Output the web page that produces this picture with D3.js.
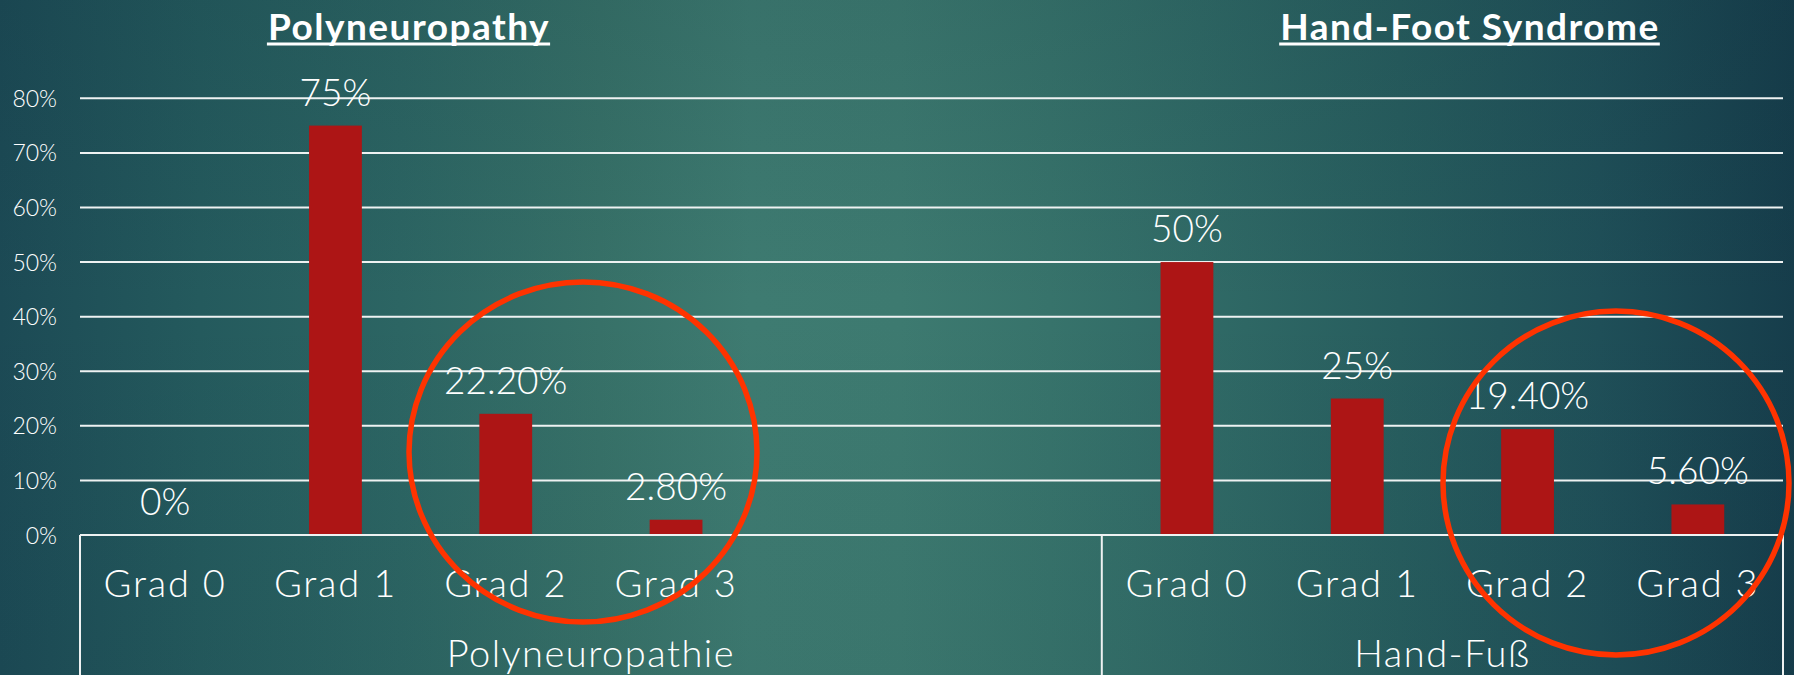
<!DOCTYPE html>
<html>
<head>
<meta charset="utf-8">
<script src="https://cdn.jsdelivr.net/npm/d3@7"></script>
<style>
  html, body { margin: 0; padding: 0; background: #1c4a55; }
  svg { display: block; }
  text { font-family: Lato, "Open Sans", "DejaVu Sans", sans-serif; fill: #ffffff; }
</style>
</head>
<body>
<svg id="chart" width="1794" height="675"></svg>
<script>
// Grades per group (the neuropathy sheet carries two blank rows)
const groups = ["Polyneuropathie", "Hand-Fuß"];
const polyCategories = ["Grad 0", "Grad 1", "Grad 2", "Grad 3", "", ""];
const polyValues = [0, 75, 22.2, 2.8, null, null];
const handFootCategories = ["Grad 0", "Grad 1", "Grad 2", "Grad 3"];
const handFootValues = [50, 25, 19.4, 5.6];
const yTicks = [0, 10, 20, 30, 40, 50, 60, 70, 80];
const titles = ["Polyneuropathy", "Hand-Foot Syndrome"];

const W = 1794, H = 675;
const plot = { left: 80, right: 1783, top: 98.3, bottom: 535 };

const svg = d3.select("#chart");

// background
const defs = svg.append("defs");
const bg = defs.append("linearGradient").attr("id", "bg")
  .attr("gradientUnits", "userSpaceOnUse")
  .attr("x1", 0).attr("y1", 0).attr("x2", W).attr("y2", 0);
[[0, "#1c4a55"], [200, "#245a5d"], [400, "#2c6563"], [600, "#377168"], [750, "#3e7b71"],
 [900, "#3d7a70"], [1050, "#37736b"], [1200, "#306a66"], [1400, "#275d5e"],
 [1600, "#1f4f58"], [1794, "#163d4b"]].forEach(([x, c]) =>
  bg.append("stop").attr("offset", x / W).attr("stop-color", c));
const shade = defs.append("linearGradient").attr("id", "shade")
  .attr("x1", 0).attr("y1", 0).attr("x2", 0).attr("y2", 1);
shade.append("stop").attr("offset", 0).attr("stop-color", "#0c2a35").attr("stop-opacity", 0.12);
shade.append("stop").attr("offset", 0.45).attr("stop-color", "#0c2a35").attr("stop-opacity", 0);
shade.append("stop").attr("offset", 1).attr("stop-color", "#0c2a35").attr("stop-opacity", 0.06);
svg.append("rect").attr("width", W).attr("height", H).attr("fill", "url(#bg)");
svg.append("rect").attr("width", W).attr("height", H).attr("fill", "url(#shade)");

// flattened rows: one slot per category row
const rows = [];
polyCategories.forEach((c, i) => rows.push({ group: groups[0], cat: c, value: polyValues[i], key: groups[0] + "|" + i }));
handFootCategories.forEach((c, i) => rows.push({ group: groups[1], cat: c, value: handFootValues[i], key: groups[1] + "|" + i }));

const x = d3.scaleBand()
  .domain(rows.map(r => r.key))
  .range([plot.left, plot.right])
  .paddingInner(0.69)
  .paddingOuter(0.345);
const step = x.step();
const slotCenter = k => x(k) + x.bandwidth() / 2;

const y = d3.scaleLinear().domain([0, 80]).range([plot.bottom, plot.top]);
const pct = v => Number.isInteger(v) ? v + "%" : v.toFixed(2) + "%";

const lineColor = "#eef2f2";

// gridlines
svg.append("g")
  .selectAll("line")
  .data(yTicks.filter(t => t > 0))
  .join("line")
  .attr("x1", plot.left).attr("x2", plot.right)
  .attr("y1", d => y(d)).attr("y2", d => y(d))
  .attr("stroke", lineColor).attr("stroke-width", 2);

// y axis labels
svg.append("g")
  .selectAll("text")
  .data(yTicks)
  .join("text")
  .attr("x", 57)
  .attr("y", d => y(d) + 8.5)
  .attr("text-anchor", "end")
  .attr("font-size", 23)
  .attr("font-weight", 300)
  .text(d => d + "%");

// bars
const data = rows.filter(r => r.value !== null);
svg.append("g")
  .selectAll("rect")
  .data(data)
  .join("rect")
  .attr("x", d => x(d.key))
  .attr("width", x.bandwidth())
  .attr("y", d => y(d.value))
  .attr("height", d => y(0) - y(d.value))
  .attr("fill", "#ad1515");

// value labels
svg.append("g")
  .selectAll("text")
  .data(data)
  .join("text")
  .attr("x", d => slotCenter(d.key))
  .attr("y", d => y(d.value) - 20)
  .attr("text-anchor", "middle")
  .attr("font-size", 37)
  .attr("font-weight", 300)
  .text(d => pct(d.value));

// category axis: baseline, separators and labels
svg.append("line")
  .attr("x1", plot.left).attr("x2", plot.right)
  .attr("y1", y(0)).attr("y2", y(0))
  .attr("stroke", lineColor).attr("stroke-width", 2);

const groupSpans = groups.map(g => {
  const keys = rows.filter(r => r.group === g).map(r => r.key);
  return { group: g, x0: x(keys[0]) - x.paddingOuter() * step, x1: x(keys[keys.length - 1]) - x.paddingOuter() * step + step };
});
const separators = [groupSpans[0].x0].concat(groupSpans.map(s => s.x1));
svg.append("g")
  .selectAll("line")
  .data(separators)
  .join("line")
  .attr("x1", d => d).attr("x2", d => d)
  .attr("y1", y(0)).attr("y2", H)
  .attr("stroke", lineColor).attr("stroke-width", 2);

svg.append("g")
  .selectAll("text")
  .data(rows.filter(r => r.cat))
  .join("text")
  .attr("x", d => slotCenter(d.key))
  .attr("y", 597)
  .attr("text-anchor", "middle")
  .attr("font-size", 38)
  .attr("font-weight", 300)
  .attr("letter-spacing", 1.8)
  .text(d => d.cat);

svg.append("g")
  .selectAll("text")
  .data(groupSpans)
  .join("text")
  .attr("x", d => (d.x0 + d.x1) / 2)
  .attr("y", 667)
  .attr("text-anchor", "middle")
  .attr("font-size", 38)
  .attr("font-weight", 300)
  .attr("letter-spacing", 1.5)
  .text(d => d.group);

// underlined slide titles
const titlePos = [409, 1470];
titles.forEach((t, i) => {
  const el = svg.append("text")
    .attr("x", titlePos[i]).attr("y", 39.5)
    .attr("text-anchor", "middle")
    .attr("font-size", 37)
    .attr("font-weight", 700)
    .attr("letter-spacing", 1.5)
    .text(t);
  const bb = el.node().getBBox();
  svg.append("rect")
    .attr("x", bb.x - 1).attr("width", bb.width + 1)
    .attr("y", 42.5).attr("height", 3)
    .attr("fill", "#ffffff");
});

// highlight rings around the higher grades
const rings = [
  { cx: 583, cy: 452, rx: 174, ry: 170 },
  { cx: 1616, cy: 483, rx: 173, ry: 172 }
];
svg.append("g")
  .selectAll("ellipse")
  .data(rings)
  .join("ellipse")
  .attr("cx", d => d.cx).attr("cy", d => d.cy)
  .attr("rx", d => d.rx).attr("ry", d => d.ry)
  .attr("fill", "none")
  .attr("stroke", "#ff3300")
  .attr("stroke-width", 5.5);
</script>
</body>
</html>
